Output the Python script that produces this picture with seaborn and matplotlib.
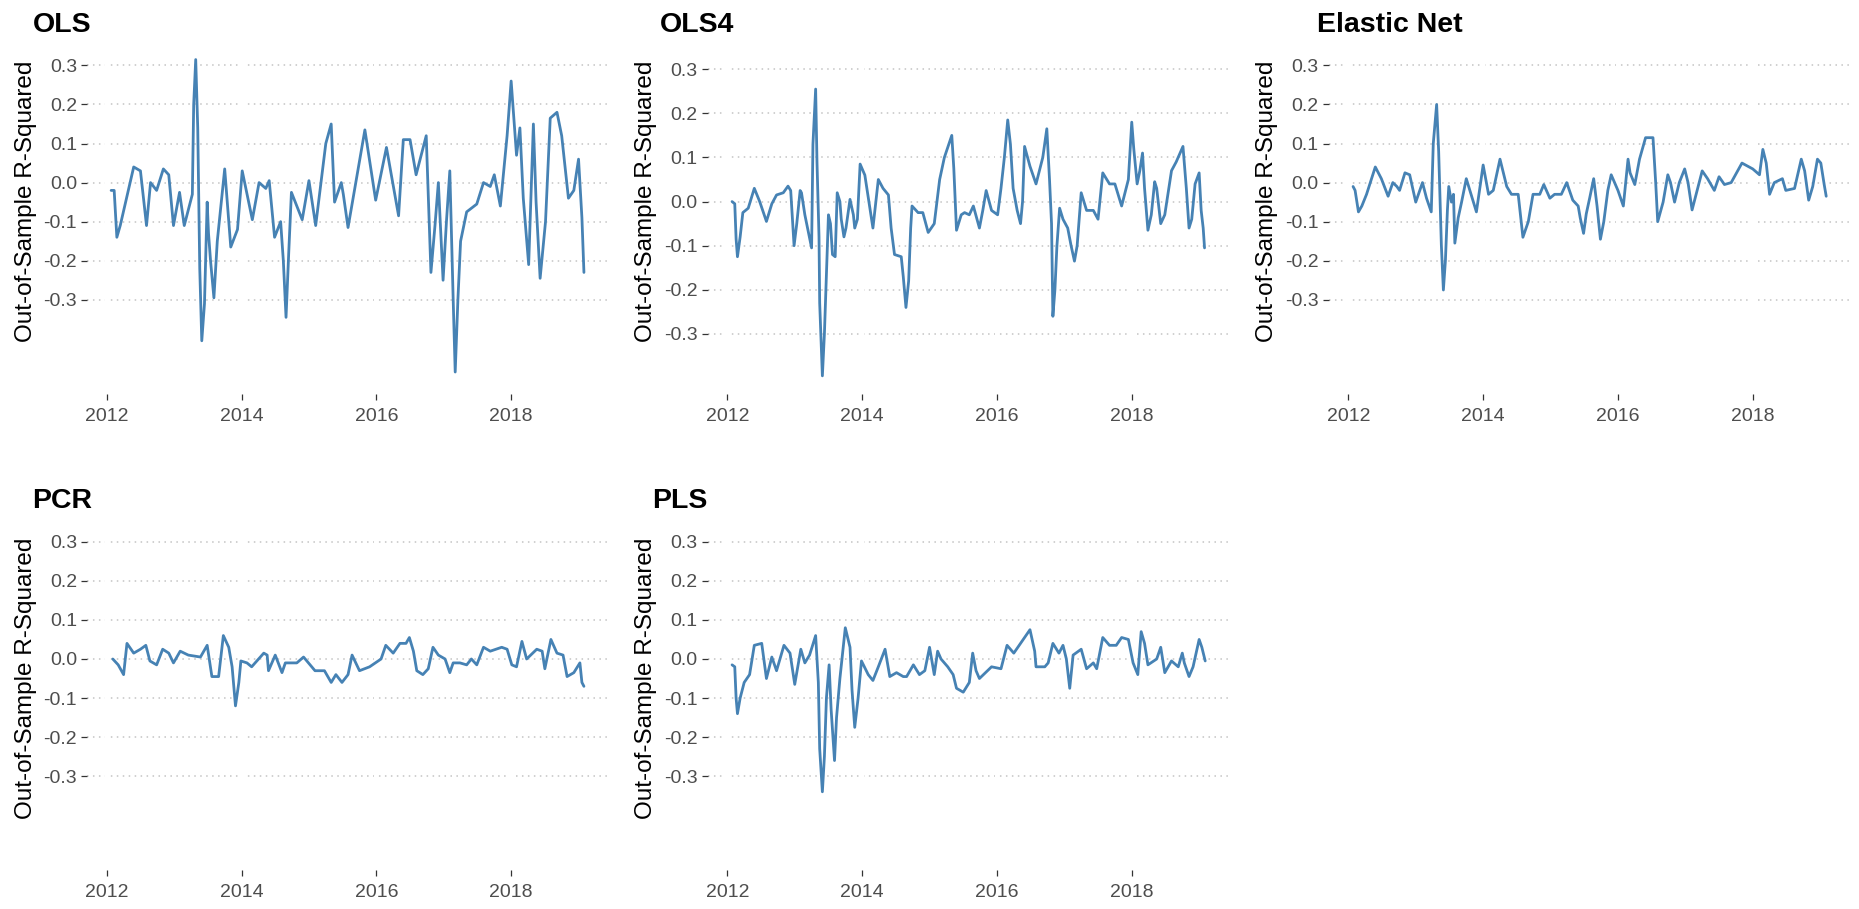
import matplotlib
matplotlib.use("Agg")
import matplotlib.pyplot as plt
import seaborn as sns
import pandas as pd

# ---------------- data (decimal year, out-of-sample R^2) ----------------
ols_x = [2012.065, 2012.11, 2012.15, 2012.20, 2012.40, 2012.50, 2012.59, 2012.65, 2012.74, 2012.84,
         2012.92, 2012.99, 2013.08, 2013.15, 2013.27, 2013.29, 2013.32, 2013.35, 2013.38, 2013.41,
         2013.45, 2013.49, 2013.51, 2013.54, 2013.59, 2013.64, 2013.75, 2013.84, 2013.94, 2014.01,
         2014.16, 2014.26, 2014.36, 2014.41, 2014.49, 2014.58, 2014.62, 2014.66, 2014.70, 2014.74,
         2014.82, 2014.90, 2015.00, 2015.10, 2015.25, 2015.33, 2015.38, 2015.48, 2015.51, 2015.58,
         2015.83, 2015.99, 2016.15, 2016.33, 2016.40, 2016.50, 2016.59, 2016.74, 2016.81, 2016.87,
         2016.92, 2016.99, 2017.04, 2017.09, 2017.14, 2017.17, 2017.21, 2017.25, 2017.34, 2017.49,
         2017.59, 2017.69, 2017.75, 2017.84, 2017.94, 2018.00, 2018.08, 2018.13, 2018.18, 2018.26,
         2018.33, 2018.37, 2018.43, 2018.51, 2018.58, 2018.68, 2018.75, 2018.85, 2018.93, 2019.00,
         2019.05, 2019.08]
ols_y = [-0.02, -0.02, -0.14, -0.11, 0.04, 0.03, -0.11, 0.00, -0.02, 0.035,
         0.02, -0.11, -0.025, -0.11, -0.03, 0.20, 0.315, 0.14, -0.22, -0.405,
         -0.31, -0.05, -0.13, -0.20, -0.295, -0.15, 0.035, -0.165, -0.12, 0.03,
         -0.095, 0.00, -0.015, 0.005, -0.14, -0.10, -0.20, -0.345, -0.18, -0.025,
         -0.06, -0.095, 0.005, -0.11, 0.10, 0.15, -0.05, 0.00, -0.03, -0.115,
         0.135, -0.045, 0.09, -0.085, 0.11, 0.11, 0.02, 0.12, -0.23, -0.11,
         0.00, -0.25, -0.10, 0.03, -0.30, -0.485, -0.30, -0.15, -0.075, -0.055,
         0.00, -0.01, 0.02, -0.06, 0.12, 0.26, 0.07, 0.14, -0.04, -0.21,
         0.15, -0.05, -0.245, -0.10, 0.165, 0.18, 0.12, -0.04, -0.02, 0.06,
         -0.09, -0.23]

ols4_x = [2012.07, 2012.11, 2012.13, 2012.15, 2012.19, 2012.23, 2012.31, 2012.40, 2012.48, 2012.58,
          2012.66, 2012.73, 2012.83, 2012.90, 2012.94, 2012.99, 2013.03, 2013.08, 2013.10, 2013.15,
          2013.25, 2013.27, 2013.31, 2013.33, 2013.36, 2013.37, 2013.41, 2013.44, 2013.46, 2013.50,
          2013.53, 2013.56, 2013.60, 2013.63, 2013.67, 2013.69, 2013.73, 2013.76, 2013.82, 2013.87,
          2013.89, 2013.93, 2013.97, 2014.04, 2014.16, 2014.24, 2014.31, 2014.39, 2014.43, 2014.48,
          2014.58, 2014.61, 2014.65, 2014.69, 2014.72, 2014.74, 2014.83, 2014.90, 2014.98, 2015.07,
          2015.15, 2015.22, 2015.33, 2015.36, 2015.40, 2015.47, 2015.52, 2015.59, 2015.65, 2015.74,
          2015.79, 2015.84, 2015.92, 2016.01, 2016.06, 2016.11, 2016.16, 2016.20, 2016.24, 2016.30,
          2016.35, 2016.38, 2016.41, 2016.49, 2016.58, 2016.68, 2016.74, 2016.78, 2016.81, 2016.83,
          2016.86, 2016.89, 2016.93, 2016.98, 2017.05, 2017.10, 2017.15, 2017.19, 2017.25, 2017.33,
          2017.43, 2017.50, 2017.57, 2017.67, 2017.75, 2017.85, 2017.95, 2018.00, 2018.03, 2018.08,
          2018.12, 2018.16, 2018.19, 2018.24, 2018.29, 2018.34, 2018.37, 2018.43, 2018.49, 2018.59,
          2018.66, 2018.76, 2018.81, 2018.85, 2018.89, 2018.94, 2019.00, 2019.03, 2019.06, 2019.08]
ols4_y = [0.00, -0.005, -0.085, -0.125, -0.08, -0.025, -0.015, 0.03, 0.00, -0.045,
          -0.005, 0.015, 0.02, 0.035, 0.025, -0.10, -0.05, 0.025, 0.02, -0.03,
          -0.105, 0.13, 0.255, 0.09, -0.08, -0.23, -0.395, -0.30, -0.21, -0.03,
          -0.05, -0.12, -0.125, 0.02, 0.00, -0.04, -0.08, -0.06, 0.005, -0.03,
          -0.06, -0.04, 0.085, 0.06, -0.06, 0.05, 0.03, 0.015, -0.06, -0.12,
          -0.125, -0.17, -0.24, -0.18, -0.06, -0.01, -0.025, -0.025, -0.07, -0.05,
          0.05, 0.10, 0.15, 0.075, -0.065, -0.03, -0.025, -0.03, -0.01, -0.06,
          -0.02, 0.025, -0.02, -0.03, 0.03, 0.10, 0.185, 0.13, 0.03, -0.02,
          -0.05, 0.00, 0.125, 0.08, 0.04, 0.10, 0.165, 0.05, -0.05, -0.26,
          -0.20, -0.10, -0.015, -0.04, -0.06, -0.10, -0.135, -0.10, 0.02, -0.02,
          -0.02, -0.04, 0.065, 0.04, 0.04, -0.01, 0.05, 0.18, 0.12, 0.04,
          0.07, 0.11, 0.03, -0.065, -0.03, 0.045, 0.03, -0.05, -0.03, 0.07,
          0.09, 0.125, 0.03, -0.06, -0.04, 0.04, 0.065, -0.02, -0.06, -0.105]

enet_x = [2012.07, 2012.10, 2012.15, 2012.20, 2012.27, 2012.40, 2012.49, 2012.59, 2012.66, 2012.72,
          2012.76, 2012.84, 2012.91, 2013.00, 2013.10, 2013.16, 2013.23, 2013.26, 2013.31, 2013.34,
          2013.36, 2013.38, 2013.41, 2013.44, 2013.47, 2013.49, 2013.53, 2013.56, 2013.58, 2013.63,
          2013.68, 2013.75, 2013.90, 2014.00, 2014.08, 2014.15, 2014.25, 2014.35, 2014.42, 2014.52,
          2014.59, 2014.67, 2014.74, 2014.84, 2014.90, 2014.99, 2015.06, 2015.16, 2015.24, 2015.33,
          2015.41, 2015.44, 2015.49, 2015.53, 2015.58, 2015.64, 2015.69, 2015.74, 2015.79, 2015.85,
          2015.90, 2016.00, 2016.08, 2016.15, 2016.18, 2016.25, 2016.32, 2016.41, 2016.52, 2016.56,
          2016.59, 2016.67, 2016.74, 2016.78, 2016.84, 2016.91, 2016.99, 2017.04, 2017.10, 2017.16,
          2017.25, 2017.33, 2017.43, 2017.50, 2017.58, 2017.68, 2017.84, 2018.00, 2018.10, 2018.15,
          2018.20, 2018.25, 2018.32, 2018.44, 2018.49, 2018.62, 2018.72, 2018.77, 2018.83, 2018.89,
          2018.96, 2019.01, 2019.06, 2019.09]
enet_y = [-0.01, -0.02, -0.075, -0.06, -0.03, 0.04, 0.01, -0.035, 0.00, -0.01,
          -0.02, 0.025, 0.02, -0.05, 0.00, -0.04, -0.075, 0.10, 0.20, 0.08,
          -0.04, -0.16, -0.275, -0.20, -0.07, -0.01, -0.05, -0.03, -0.155, -0.09,
          -0.05, 0.01, -0.075, 0.045, -0.03, -0.02, 0.06, -0.01, -0.03, -0.03,
          -0.14, -0.10, -0.03, -0.03, -0.005, -0.04, -0.03, -0.03, 0.00, -0.045,
          -0.06, -0.09, -0.13, -0.08, -0.04, 0.01, -0.06, -0.145, -0.10, -0.02,
          0.02, -0.02, -0.06, 0.06, 0.025, -0.005, 0.06, 0.115, 0.115, 0.00,
          -0.10, -0.05, 0.02, 0.00, -0.05, 0.00, 0.035, 0.00, -0.07, -0.03,
          0.03, 0.01, -0.02, 0.015, -0.005, 0.00, 0.05, 0.035, 0.02, 0.085,
          0.05, -0.03, 0.00, 0.01, -0.02, -0.015, 0.06, 0.03, -0.045, -0.01,
          0.06, 0.05, -0.005, -0.035]

pcr_x = [2012.09, 2012.17, 2012.25, 2012.30, 2012.40, 2012.50, 2012.58, 2012.64, 2012.74, 2012.83,
         2012.92, 2012.99, 2013.09, 2013.21, 2013.39, 2013.49, 2013.56, 2013.66, 2013.73, 2013.81,
         2013.86, 2013.91, 2013.96, 2013.99, 2014.08, 2014.15, 2014.33, 2014.38, 2014.40, 2014.50,
         2014.60, 2014.65, 2014.82, 2014.92, 2015.09, 2015.23, 2015.33, 2015.40, 2015.49, 2015.58,
         2015.64, 2015.75, 2015.90, 2016.07, 2016.14, 2016.25, 2016.35, 2016.44, 2016.49, 2016.55,
         2016.60, 2016.69, 2016.77, 2016.84, 2016.92, 2017.02, 2017.09, 2017.14, 2017.24, 2017.34,
         2017.41, 2017.49, 2017.59, 2017.69, 2017.86, 2017.94, 2018.01, 2018.08, 2018.16, 2018.23,
         2018.38, 2018.46, 2018.50, 2018.59, 2018.68, 2018.77, 2018.83, 2018.93, 2019.02, 2019.05,
         2019.08]
pcr_y = [0.00, -0.015, -0.04, 0.04, 0.015, 0.025, 0.035, -0.005, -0.015, 0.025,
         0.015, -0.01, 0.02, 0.01, 0.005, 0.035, -0.045, -0.045, 0.06, 0.03,
         -0.02, -0.12, -0.06, -0.005, -0.01, -0.02, 0.015, 0.01, -0.03, 0.01,
         -0.035, -0.01, -0.01, 0.005, -0.03, -0.03, -0.06, -0.04, -0.06, -0.04,
         0.01, -0.03, -0.02, 0.00, 0.035, 0.015, 0.04, 0.04, 0.055, 0.02,
         -0.03, -0.04, -0.025, 0.03, 0.01, 0.00, -0.035, -0.01, -0.01, -0.015,
         0.00, -0.015, 0.03, 0.02, 0.03, 0.025, -0.015, -0.02, 0.045, 0.00,
         0.025, 0.02, -0.025, 0.05, 0.015, 0.01, -0.045, -0.035, -0.01, -0.06,
         -0.07]

pls_x = [2012.07, 2012.11, 2012.13, 2012.15, 2012.19, 2012.25, 2012.33, 2012.40, 2012.51, 2012.58,
         2012.66, 2012.73, 2012.84, 2012.93, 2013.00, 2013.09, 2013.15, 2013.22, 2013.31, 2013.35,
         2013.37, 2013.41, 2013.44, 2013.47, 2013.51, 2013.54, 2013.59, 2013.62, 2013.67, 2013.75,
         2013.82, 2013.85, 2013.89, 2013.94, 2013.99, 2014.09, 2014.16, 2014.24, 2014.34, 2014.41,
         2014.51, 2014.61, 2014.66, 2014.76, 2014.85, 2014.93, 2015.00, 2015.07, 2015.12, 2015.17,
         2015.27, 2015.35, 2015.40, 2015.50, 2015.59, 2015.64, 2015.69, 2015.74, 2015.92, 2016.06,
         2016.15, 2016.25, 2016.49, 2016.56, 2016.58, 2016.71, 2016.76, 2016.83, 2016.92, 2016.98,
         2017.03, 2017.08, 2017.13, 2017.25, 2017.33, 2017.43, 2017.48, 2017.57, 2017.67, 2017.77,
         2017.85, 2017.95, 2018.02, 2018.09, 2018.14, 2018.19, 2018.24, 2018.37, 2018.43, 2018.49,
         2018.59, 2018.69, 2018.75, 2018.78, 2018.85, 2018.91, 2019.00, 2019.04, 2019.09]
pls_y = [-0.015, -0.02, -0.10, -0.14, -0.10, -0.06, -0.04, 0.035, 0.04, -0.05,
         0.005, -0.03, 0.035, 0.015, -0.065, 0.025, -0.01, 0.01, 0.06, -0.06,
         -0.23, -0.34, -0.25, -0.10, -0.015, -0.13, -0.26, -0.15, -0.05, 0.08,
         0.03, -0.08, -0.175, -0.10, -0.005, -0.04, -0.055, -0.02, 0.025, -0.045,
         -0.035, -0.045, -0.045, -0.015, -0.04, -0.03, 0.03, -0.04, 0.02, 0.00,
         -0.02, -0.04, -0.075, -0.085, -0.06, 0.015, -0.03, -0.05, -0.02, -0.025,
         0.035, 0.015, 0.075, 0.02, -0.02, -0.02, -0.01, 0.04, 0.015, 0.035,
         0.00, -0.075, 0.01, 0.025, -0.025, -0.01, -0.025, 0.055, 0.035, 0.035,
         0.055, 0.05, -0.01, -0.04, 0.07, 0.04, -0.015, 0.00, 0.03, -0.035,
         -0.005, -0.02, 0.015, -0.01, -0.045, -0.02, 0.05, 0.03, -0.005]

titles = ["OLS", "OLS4", "Elastic Net", "PCR", "PLS"]
series_x = [ols_x, ols4_x, enet_x, pcr_x, pls_x]
series_y = [ols_y, ols4_y, enet_y, pcr_y, pls_y]
y_ticks = [-0.3, -0.2, -0.1, 0.0, 0.1, 0.2, 0.3]
x_ticks = [2012, 2014, 2016, 2018]
y_label = "Out-of-Sample R-Squared"

# ---------------- style ----------------
sns.set_style("white")
plt.rcParams["font.family"] = ["Liberation Sans", "DejaVu Sans"]
plt.rcParams["axes.unicode_minus"] = False

W, H = 1859, 909
fig = plt.figure(figsize=(W / 100, H / 100), dpi=100)

LINE = "#4682B4"
TXT = "#4D4D4D"

col_left = [87.2, 707.8, 1328.8]
ax_w = 521.0
row_top = [49.8, 526.2]
ax_h = 343.7
title_x = [33, 660, 1317, 32, 652]
title_base = [32, 508]

ylims = [(-0.54, 0.34), (-0.435, 0.344), (-0.54, 0.34), (-0.54, 0.34), (-0.54, 0.34)]

for i, (name, xs, ys) in enumerate(zip(titles, series_x, series_y)):
    r, c = divmod(i, 3)
    left = col_left[c]
    top = row_top[r]
    ax = fig.add_axes([left / W, 1 - (top + ax_h) / H, ax_w / W, ax_h / H])
    df = pd.DataFrame({"date": xs, "r2": ys})
    # grid
    for yv in y_ticks:
        ax.axhline(yv, color="#C4C4C4", lw=1.1, ls=(0, (1, 2.9)), zorder=0.5)
    for xv in x_ticks:
        ax.axvline(xv, color="white", lw=3.0, zorder=1)
    sns.lineplot(data=df, x="date", y="r2", ax=ax, color=LINE, linewidth=2.0,
                 sort=False, estimator=None, zorder=3)
    ax.set_xlim(2011.71, 2019.44)
    ax.set_ylim(*ylims[i])
    ax.set_yticks(y_ticks)
    ax.set_yticklabels([f"{v:.1f}" for v in y_ticks])
    ax.set_xticks(x_ticks)
    ax.set_xticklabels([str(v) for v in x_ticks])
    ax.tick_params(axis="both", which="major", labelsize=14, labelcolor=TXT,
                   color="#333333", length=4.3, width=0.9,
                   left=True, bottom=True, direction="out")
    ax.tick_params(axis="y", pad=3)
    ax.tick_params(axis="x", pad=6)
    ax.grid(False)
    for s in ax.spines.values():
        s.set_visible(False)
    ax.set_xlabel("")
    ax.set_ylabel(y_label, fontsize=17.5, color="black")
    ax.yaxis.set_label_coords(-0.097, 0.5586)
    fig.text(title_x[i] / W, 1 - title_base[r] / H, name, fontsize=20.5,
             fontweight="bold", color="black", ha="left", va="baseline")

fig.savefig("out.png", dpi=100)
